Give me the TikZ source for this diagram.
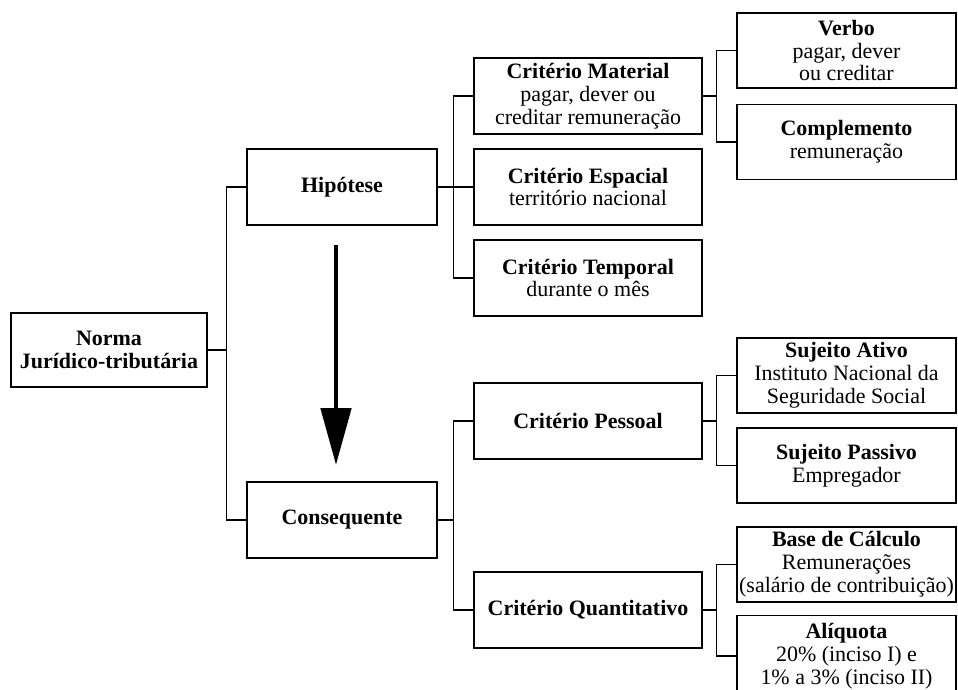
\documentclass[tikz,border=0pt]{standalone}
\usepackage{fontspec}
\setmainfont{Liberation Serif}
\usetikzlibrary{arrows.meta}

\begin{document}
\begin{tikzpicture}[x=0.02cm, y=-0.02cm,
    box/.style={draw, line width=0.6pt, align=center, inner xsep=1pt, inner ysep=1pt,
      font=\fontsize{12.5}{13}\selectfont},
    rootbox/.style={box, minimum width=3.92cm, minimum height=1.48cm},
    partbox/.style={box, minimum width=3.8cm, minimum height=1.52cm},
    critbox/.style={box, minimum width=4.56cm, minimum height=1.52cm},
    leafbox/.style={box, minimum width=4.38cm, minimum height=1.5cm},
    link/.style={line width=0.6pt}]
  \useasboundingbox (0,0) rectangle (958,690);

  \node[rootbox] (norma) at (109,350) {\textbf{Norma}\\\textbf{Jurídico-tributária}};
  \node[partbox] (hip) at (342,187) {\textbf{Hipótese}};
  \node[partbox] (cons) at (342,520) {\textbf{Consequente}};

  \node[critbox] (mat) at (588,96) {\textbf{Critério Material}\\pagar, dever ou\\creditar remuneração};
  \node[critbox] (esp) at (588,187) {\textbf{Critério Espacial}\\território nacional};
  \node[critbox] (temp) at (588,278) {\textbf{Critério Temporal}\\durante o mês};
  \node[critbox] (pess) at (588,421) {\textbf{Critério Pessoal}};
  \node[critbox] (quant) at (588,610) {\textbf{Critério Quantitativo}};

  \node[leafbox] (verbo) at (846.5,50.5) {\textbf{Verbo}\\pagar, dever\\ou creditar};
  \node[leafbox] (comp) at (846.5,142) {\textbf{Complemento}\\remuneração};
  \node[leafbox] (ativo) at (846.5,375.5) {\textbf{Sujeito Ativo}\\Instituto Nacional da\\Seguridade Social};
  \node[leafbox] (passivo) at (846.5,465.5) {\textbf{Sujeito Passivo}\\Empregador};
  \node[leafbox, inner xsep=0pt] (base) at (846.5,564.5) {\textbf{Base de Cálculo}\\Remunerações\\(salário de contribuição)};
  \node[leafbox, minimum height=1.62cm] (aliq) at (846.5,656) {\textbf{Alíquota}\\20\% (inciso I) e\\1\% a 3\% (inciso II)};

  % elbow links
  \foreach \mom/\kid in {norma/hip, norma/cons, hip/mat, hip/esp, hip/temp,
      mat/verbo, mat/comp, cons/pess, cons/quant, pess/ativo, pess/passivo,
      quant/base, quant/aliq}
    \draw[link] (\kid.west) -- ++(-20,0) |- (\mom.east);

  % big arrow
  \coordinate (arrtop) at (336,245);
  \coordinate (arrtip) at (336,465);
  \draw[line width=2.8pt, -{Triangle[width=0.6cm, length=1.14cm]}] (arrtop) -- (arrtip);
\end{tikzpicture}
\end{document}
